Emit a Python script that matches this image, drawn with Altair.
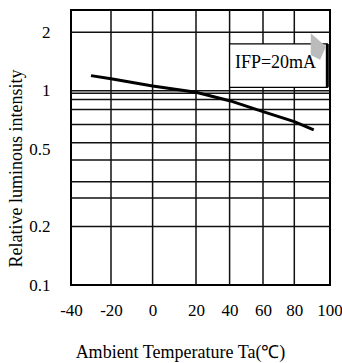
import altair as alt
import pandas as pd

# Curve: Relative luminous intensity vs ambient temperature
temp = [-30, -20, 0, 20, 40, 60, 80, 91]
rel_int = [1.195, 1.15, 1.057, 0.981, 0.888, 0.78, 0.693, 0.628]

# Axis tick values
x_ticks = [-40, -20, 0, 20, 40, 60, 80, 100]
y_ticks = [0.1, 0.2, 0.5, 1, 2]

# Grid lines
x_grid = [-20, 0, 20, 40, 60, 80]
y_grid = [2, 1, 0.97, 0.9, 0.8, 0.67, 0.54, 0.44, 0.34, 0.28, 0.2]

# Annotation box
box_label = ["IFP=20mA"]
box_x = [40]
box_x2 = [98.7]
box_y = [1.04]
box_y2 = [1.74]
label_x = [68]
label_y = [1.39]
mark_x = [92.9]
mark_y = [1.66]

FONT = "Liberation Serif"

xs = alt.Scale(domain=x_ticks, range=[0, 40, 81.6, 125, 158.6, 192, 223.3, 258.6])
ys = alt.Scale(type="log", domain=[0.1, 2.6])

curve_df = pd.DataFrame({"t": temp, "r": rel_int})
xg_df = pd.DataFrame({"x": x_grid})
yg_df = pd.DataFrame({"y": y_grid})
box_df = pd.DataFrame({"x": box_x, "x2": box_x2, "y": box_y, "y2": box_y2})
lab_df = pd.DataFrame({"x": label_x, "y": label_y, "t": box_label})
mk_df = pd.DataFrame({"x": mark_x, "y": mark_y})

x_axis = alt.Axis(values=x_ticks, ticks=False, domain=False, grid=False,
                  labelPadding=17, labelFlush=False, labelOverlap=False,
                  labelExpr="'' + datum.value",
                  labelFont=FONT, labelFontSize=17, labelColor="black",
                  title="Ambient Temperature Ta(℃)", titleFont=FONT,
                  titleFontSize=18, titleFontWeight="normal", titleColor="black",
                  titleX=109, titleY=67, titleBaseline="middle")
y_axis = alt.Axis(values=y_ticks, ticks=False, domain=False, grid=False,
                  labelExpr="'' + datum.value", labelPadding=21, labelOverlap=False,
                  labelFont=FONT, labelFontSize=17, labelColor="black",
                  title="Relative luminous intensity", titleFont=FONT,
                  titleFontSize=18, titleFontWeight="normal", titleColor="black",
                  titleX=-55, titleY=158, titleBaseline="middle")


def X(f):
    return alt.X(f, type="quantitative", scale=xs, axis=x_axis)


def Y(f):
    return alt.Y(f, type="quantitative", scale=ys, axis=y_axis)


vgrid = alt.Chart(xg_df).mark_rule(color="#111", strokeWidth=1.5).encode(x=X("x"))
hgrid = alt.Chart(yg_df).mark_rule(color="#111", strokeWidth=1.5).encode(y=Y("y"))

box = alt.Chart(box_df).mark_rect(fill="white", stroke="black", strokeWidth=1.2).encode(
    x=X("x"), x2="x2:Q", y=Y("y"), y2="y2:Q")
edge = alt.Chart(box_df).mark_rule(color="black", strokeWidth=3).encode(
    x=X("x2"), y=Y("y"), y2="y2:Q")
label = alt.Chart(lab_df).mark_text(font=FONT, fontSize=18, color="black").encode(
    x=X("x"), y=Y("y"), text="t:N")
artifact = alt.Chart(mk_df).mark_point(
    shape="M-0.42,-0.98 L0.6,-0.09 L0.2,0.8 L-0.42,0.47 Z",
    size=900, filled=True, color="#bbbbbb", opacity=1).encode(x=X("x"), y=Y("y"))
curve = alt.Chart(curve_df).mark_line(color="black", strokeWidth=3).encode(
    x=X("t"), y=Y("r"))

chart = alt.layer(vgrid, hgrid, box, edge, label, artifact, curve).properties(
    width=259, height=275,
    autosize=alt.AutoSizeParams(type="none"),
    padding={"left": 71, "top": 10, "right": 12, "bottom": 78},
    background="white",
).configure_view(stroke="black", strokeWidth=2).configure_axis(labelOverlap=False)

chart.save("out.html", embed_options={"renderer": "svg", "actions": False})
